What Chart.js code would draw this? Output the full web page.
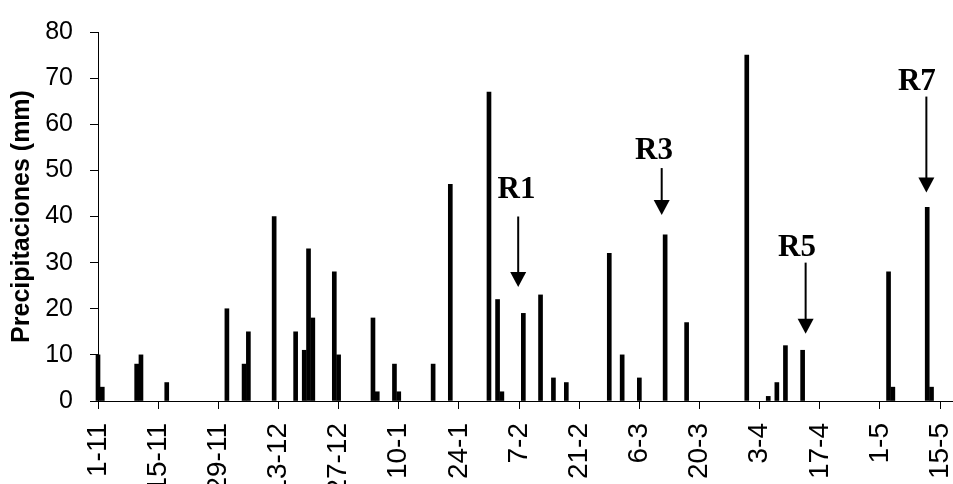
<!DOCTYPE html>
<html>
<head>
<meta charset="utf-8">
<script src="https://cdn.jsdelivr.net/npm/chart.js@4.4.1/dist/chart.umd.min.js"></script>
<style>
  html, body { margin: 0; padding: 0; background: #fff; }
  #chart { display: block; }
</style>
</head>
<body>
<canvas id="chart" width="953" height="484"></canvas>
<script>
  // ── Datos: días con lluvia (día-mes) y precipitación en mm ──
  const rainDates = [
    "1-11", "2-11", "10-11", "11-11", "17-11",
    "1-12", "5-12", "6-12", "12-12", "17-12", "19-12", "20-12", "21-12", "26-12", "27-12",
    "4-1", "5-1", "9-1", "10-1", "18-1", "22-1", "31-1",
    "2-2", "3-2", "8-2", "12-2", "15-2", "18-2", "28-2",
    "2-3", "6-3", "12-3", "17-3", "31-3",
    "5-4", "7-4", "9-4", "13-4",
    "3-5", "4-5", "12-5", "13-5"
  ];
  const rainValues = [
    10, 3, 8, 10, 4,
    20, 8, 15, 40, 15, 11, 33, 18, 28, 10,
    18, 2, 8, 2, 8, 47, 67,
    22, 2, 19, 23, 5, 4, 32,
    10, 5, 36, 17, 75,
    1, 4, 12, 11,
    28, 3, 42, 3
  ];
  const tickDates = [
    "1-11", "15-11", "29-11", "13-12", "27-12", "10-1", "24-1", "7-2",
    "21-2", "6-3", "20-3", "3-4", "17-4", "1-5", "15-5"
  ];
  const yTicks = [0, 10, 20, 30, 40, 50, 60, 70, 80];

  // Flechas de muestreo (día de la campaña, mm)
  const arrowNames = ["R1", "R3", "R5", "R7"];
  const arrowDays = [97.8, 131.2, 164.7, 192.8];
  const arrowFrom = [40, 50.5, 30, 66];
  const arrowTo = [24.7, 40.3, 14.6, 45.2];
  const labelDays = [97.4, 129.4, 162.7, 190.6];
  const labelValues = [44, 52.5, 31.4, 67.4];

  // Campaña 2003-2004 (febrero de 29 días)
  const SEASON_START = new Date(2003, 10, 1);
  function dayIndex(s) {
    const p = s.split("-").map(Number);
    const year = p[1] >= 11 ? 2003 : 2004;
    return Math.round((new Date(year, p[1] - 1, p[0]) - SEASON_START) / 86400000);
  }

  const tickDays = tickDates.map(dayIndex);
  const tickLabelByDay = {};
  tickDates.forEach(function (d, i) { tickLabelByDay[tickDays[i]] = d; });

  const points = rainDates.map(function (d, i) {
    return { x: dayIndex(d), y: rainValues[i] };
  });

  const SANS = '"Liberation Sans", Arial, sans-serif';

  const arrowsPlugin = {
    id: "arrows",
    afterDatasetsDraw: function (chart) {
      const ctx = chart.ctx;
      const x = chart.scales.x;
      const y = chart.scales.y;
      const head = 15, half = 8;
      ctx.save();
      ctx.fillStyle = "#000";
      ctx.strokeStyle = "#000";
      ctx.lineWidth = 2;
      ctx.font = 'bold 31px "Liberation Serif", "Times New Roman", serif';
      ctx.textAlign = "center";
      ctx.textBaseline = "alphabetic";
      arrowNames.forEach(function (name, i) {
        const ax = x.getPixelForValue(arrowDays[i]);
        const y0 = y.getPixelForValue(arrowFrom[i]);
        const y1 = y.getPixelForValue(arrowTo[i]);
        ctx.beginPath();
        ctx.moveTo(ax, y0);
        ctx.lineTo(ax, y1 - head + 1);
        ctx.stroke();
        ctx.beginPath();
        ctx.moveTo(ax - half, y1 - head);
        ctx.lineTo(ax + half, y1 - head);
        ctx.lineTo(ax, y1);
        ctx.closePath();
        ctx.fill();
        ctx.fillText(name, x.getPixelForValue(labelDays[i]), y.getPixelForValue(labelValues[i]));
      });
      ctx.restore();
    }
  };

  new Chart(document.getElementById("chart"), {
    type: "bar",
    data: {
      datasets: [{
        data: points,
        backgroundColor: "#000",
        borderWidth: 0,
        barThickness: 4,
        clip: false
      }]
    },
    options: {
      responsive: false,
      animation: false,
      devicePixelRatio: 1,
      layout: { padding: { top: 28, left: 0, right: 0, bottom: 0 } },
      plugins: { legend: { display: false }, tooltip: { enabled: false } },
      scales: {
        x: {
          type: "linear",
          min: 0,
          max: 199,
          offset: false,
          afterBuildTicks: function (s) {
            s.ticks = tickDays.map(function (v) { return { value: v }; });
          },
          afterFit: function (s) {
            s.height = 83;
            s.paddingLeft = 0;
            s.paddingRight = 0;
          },
          ticks: {
            autoSkip: false,
            minRotation: 90,
            maxRotation: 90,
            padding: 14,
            color: "#000",
            font: { family: SANS, size: 28 },
            callback: function (v) { return tickLabelByDay[v]; }
          },
          grid: {
            offset: false,
            drawOnChartArea: false,
            tickLength: 8,
            tickColor: "#000",
            tickWidth: 1
          },
          border: { color: "#000", width: 1 }
        },
        y: {
          min: 0,
          max: 80,
          afterBuildTicks: function (s) {
            s.ticks = yTicks.map(function (v) { return { value: v }; });
          },
          afterFit: function (s) { s.width = 98; },
          ticks: {
            padding: 17,
            color: "#000",
            font: { family: SANS, size: 25 }
          },
          grid: {
            drawOnChartArea: false,
            tickLength: 8,
            tickColor: "#000",
            tickWidth: 1
          },
          border: { color: "#000", width: 1 },
          title: {
            display: true,
            text: "Precipitaciones (mm)",
            color: "#000",
            font: { family: SANS, size: 25, weight: "bold" },
            padding: { top: 7, bottom: 0 }
          }
        }
      }
    },
    plugins: [arrowsPlugin]
  });
</script>
</body>
</html>
